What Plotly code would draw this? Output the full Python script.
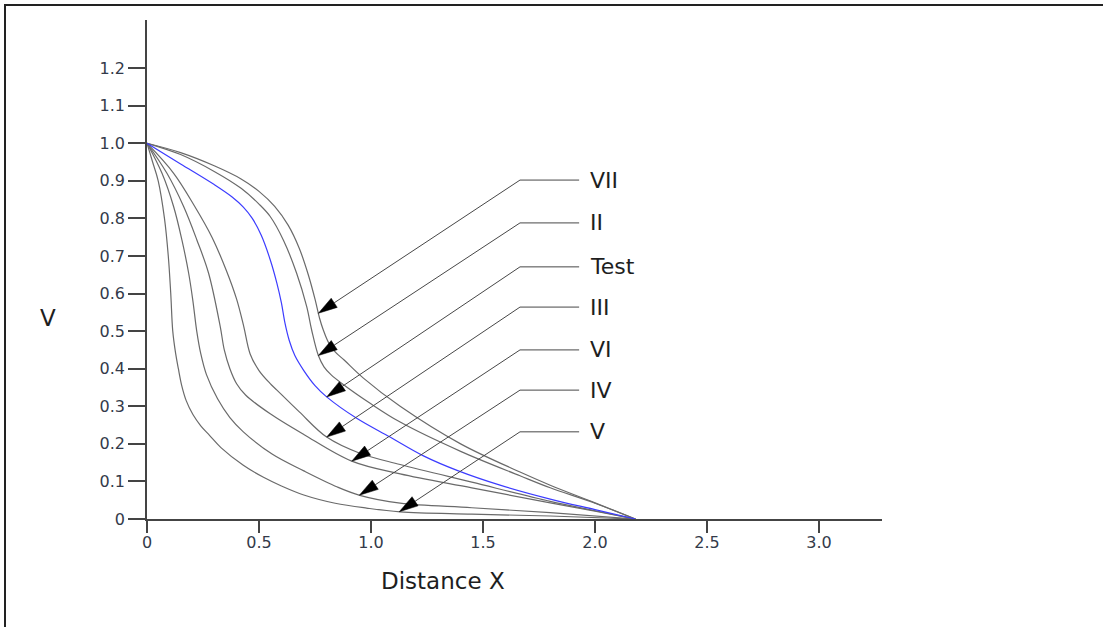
import numpy as np
import plotly.graph_objects as go

# ---------------- data ----------------
curve_names = ["VII", "II", "Test", "III", "VI", "IV", "V"]

x_VII = [0, 0.15, 0.30, 0.42, 0.50, 0.57, 0.63, 0.68, 0.72, 0.75, 0.77, 0.787, 0.81, 0.84, 0.88, 0.966, 1.13, 1.4, 1.665, 1.8, 2.0, 2.18]
y_VII = [1, 0.975, 0.94, 0.905, 0.872, 0.832, 0.782, 0.72, 0.65, 0.585, 0.535, 0.503, 0.47, 0.445, 0.423, 0.375, 0.30, 0.20, 0.125, 0.09, 0.043, 0]

x_II = [0, 0.15, 0.30, 0.42, 0.50, 0.55, 0.609, 0.668, 0.713, 0.735, 0.765, 0.79, 0.82, 0.876, 0.996, 1.13, 1.4, 1.665, 1.8, 2.0, 2.18]
y_II = [1, 0.97, 0.925, 0.88, 0.838, 0.805, 0.742, 0.654, 0.565, 0.503, 0.435, 0.405, 0.385, 0.358, 0.308, 0.258, 0.18, 0.115, 0.083, 0.042, 0]

x_Test = [0, 0.15, 0.30, 0.38, 0.43, 0.47, 0.51, 0.55, 0.58, 0.60, 0.616, 0.635, 0.66, 0.70, 0.75, 0.802, 0.936, 1.085, 1.234, 1.39, 1.576, 1.8, 2.0, 2.18]
y_Test = [1, 0.945, 0.89, 0.857, 0.83, 0.80, 0.755, 0.69, 0.627, 0.575, 0.521, 0.475, 0.435, 0.395, 0.355, 0.325, 0.268, 0.218, 0.168, 0.128, 0.09, 0.053, 0.025, 0]

x_III = [0, 0.119, 0.21, 0.29, 0.355, 0.40, 0.432, 0.46, 0.50, 0.549, 0.58, 0.68, 0.802, 0.95, 1.13, 1.45, 1.8, 2.0, 2.18]
y_III = [1, 0.92, 0.835, 0.75, 0.66, 0.585, 0.512, 0.44, 0.395, 0.361, 0.343, 0.285, 0.218, 0.175, 0.145, 0.098, 0.047, 0.022, 0]

x_VI = [0, 0.089, 0.164, 0.223, 0.275, 0.327, 0.345, 0.37, 0.40, 0.44, 0.55, 0.70, 0.914, 1.13, 1.45, 1.8, 2.0, 2.18]
y_VI = [1, 0.92, 0.831, 0.742, 0.654, 0.512, 0.45, 0.40, 0.36, 0.33, 0.28, 0.225, 0.154, 0.12, 0.083, 0.043, 0.021, 0]

x_IV = [0, 0.067, 0.119, 0.156, 0.186, 0.205, 0.222, 0.24, 0.265, 0.315, 0.37, 0.43, 0.56, 0.70, 0.85, 0.95, 1.13, 1.45, 1.8, 2.18]
y_IV = [1, 0.92, 0.831, 0.742, 0.654, 0.58, 0.50, 0.44, 0.385, 0.32, 0.27, 0.232, 0.172, 0.128, 0.085, 0.063, 0.042, 0.03, 0.017, 0]

x_V = [0, 0.025, 0.05, 0.078, 0.095, 0.106, 0.115, 0.128, 0.14, 0.155, 0.175, 0.205, 0.24, 0.28, 0.33, 0.43, 0.52, 0.60, 0.70, 0.84, 0.98, 1.13, 1.45, 1.8, 2.18]
y_V = [1, 0.95, 0.9, 0.8, 0.7, 0.6, 0.5, 0.44, 0.4, 0.355, 0.315, 0.278, 0.248, 0.222, 0.19, 0.143, 0.111, 0.088, 0.064, 0.042, 0.029, 0.019, 0.013, 0.008, 0]

# where each arrow touches its curve (x value); label-line heights
arrow_tip_x = [0.765, 0.765, 0.802, 0.802, 0.914, 0.948, 1.126]
label_y = [0.902, 0.788, 0.671, 0.564, 0.450, 0.343, 0.232]

x_tick_vals = [0, 0.5, 1.0, 1.5, 2.0, 2.5, 3.0]
x_tick_text = ["0", "0.5", "1.0", "1.5", "2.0", "2.5", "3.0"]
y_tick_vals = [0, 0.1, 0.2, 0.3, 0.4, 0.5, 0.6, 0.7, 0.8, 0.9, 1.0, 1.1, 1.2]
y_tick_text = ["0", "0.1", "0.2", "0.3", "0.4", "0.5", "0.6", "0.7", "0.8", "0.9", "1.0", "1.1", "1.2"]

curves = {
    "VII": (x_VII, y_VII),
    "II": (x_II, y_II),
    "Test": (x_Test, y_Test),
    "III": (x_III, y_III),
    "VI": (x_VI, y_VI),
    "IV": (x_IV, y_IV),
    "V": (x_V, y_V),
}

# ---------------- styling / layout ----------------
W, H = 1103, 627
L, R, T, B = 147, 221, 20, 108
X_MAX = 3.281
Y_MAX = 1.328
ARROW_TAIL_X = 1.665
LABEL_LINE_END_X = 1.929
LABEL_X = 1.969
HEAD_LEN = 19.0   # px
HEAD_HALF = 5.5   # px

GRAY = "#6a6a6a"
BLUE = "#3c3cff"
ARROW = "#474747"
TEXT = "#1e1e1e"
TICKTEXT = "#333a4a"
FONT = "DejaVu Sans"

pw = W - L - R
ph = H - T - B
sx = pw / X_MAX
sy = ph / Y_MAX

def px2paper_x(px):
    return (px - L) / pw

def px2paper_y(py):
    return (H - B - py) / ph

fig = go.Figure()

for name in curve_names:
    if name == "Test":
        continue
    xs, ys = curves[name]
    fig.add_trace(go.Scatter(x=xs, y=ys, mode="lines", name=name,
                             line=dict(color=GRAY, width=1.2, shape="spline", smoothing=1.0),
                             hoverinfo="skip", showlegend=False))
xs, ys = curves["Test"]
fig.add_trace(go.Scatter(x=xs, y=ys, mode="lines", name="Test",
                         line=dict(color=BLUE, width=1.2, shape="spline", smoothing=1.0),
                         hoverinfo="skip", showlegend=False))

annotations = []
shapes = []
for name, tx, ly in zip(curve_names, arrow_tip_x, label_y):
    xs, ys = curves[name]
    ty = float(np.interp(tx, xs, ys))
    # direction in pixel space (tail -> tip)
    dx = (tx - ARROW_TAIL_X) * sx
    dy = (ty - ly) * sy
    n = np.hypot(dx, dy)
    ux, uy = dx / n, dy / n
    bx, by = -ux * HEAD_LEN, -uy * HEAD_LEN
    px_, py_ = -uy * HEAD_HALF, ux * HEAD_HALF
    hx = [tx, tx + (bx + px_) / sx, tx + (bx - px_) / sx, tx]
    hy = [ty, ty + (by + py_) / sy, ty + (by - py_) / sy, ty]
    # shaft + horizontal leader
    fig.add_trace(go.Scatter(x=[LABEL_LINE_END_X, ARROW_TAIL_X, tx + bx / sx],
                             y=[ly, ly, ty + by / sy], mode="lines",
                             line=dict(color=ARROW, width=1), hoverinfo="skip", showlegend=False))
    fig.add_trace(go.Scatter(x=hx, y=hy, mode="lines", fill="toself", fillcolor="#000000",
                             line=dict(color="#000000", width=0.5), hoverinfo="skip", showlegend=False))
    annotations.append(dict(x=LABEL_X, y=ly, xref="x", yref="y", text=name,
                            showarrow=False, xanchor="left", yanchor="middle",
                            font=dict(family=FONT, size=22, color=TEXT)))

annotations.append(dict(x=px2paper_x(443), y=px2paper_y(581), xref="paper", yref="paper",
                        text="Distance X", showarrow=False, xanchor="center", yanchor="middle",
                        font=dict(family=FONT, size=23, color=TEXT)))
annotations.append(dict(x=px2paper_x(48), y=px2paper_y(318), xref="paper", yref="paper",
                        text="V", showarrow=False, xanchor="center", yanchor="middle",
                        font=dict(family=FONT, size=23, color=TEXT)))

# outer frame (top and left edges visible)
shapes.append(dict(type="rect", xref="paper", yref="paper",
                   x0=px2paper_x(5), x1=px2paper_x(W + 20),
                   y0=px2paper_y(H + 20), y1=px2paper_y(5),
                   line=dict(color="#222222", width=2), fillcolor="rgba(0,0,0,0)"))

fig.update_layout(
    width=W, height=H,
    margin=dict(l=L, r=R, t=T, b=B, pad=0),
    paper_bgcolor="white", plot_bgcolor="white",
    showlegend=False,
    annotations=annotations,
    shapes=shapes,
    xaxis=dict(range=[0, X_MAX], showgrid=False, zeroline=False,
               showline=True, linecolor="#444444", linewidth=1.5,
               ticks="outside", ticklen=12, tickwidth=1.5, tickcolor="#444444",
               tickvals=x_tick_vals, ticktext=x_tick_text, ticklabelstandoff=-4,
               tickfont=dict(family=FONT, size=16, color=TICKTEXT)),
    yaxis=dict(range=[0, Y_MAX], showgrid=False, zeroline=False,
               showline=True, linecolor="#444444", linewidth=1.5,
               ticks="outside", ticklen=17, tickwidth=1.5, tickcolor="#444444",
               tickvals=y_tick_vals, ticktext=y_tick_text,
               tickfont=dict(family=FONT, size=16, color=TICKTEXT)),
)

fig.write_html("out.html")
